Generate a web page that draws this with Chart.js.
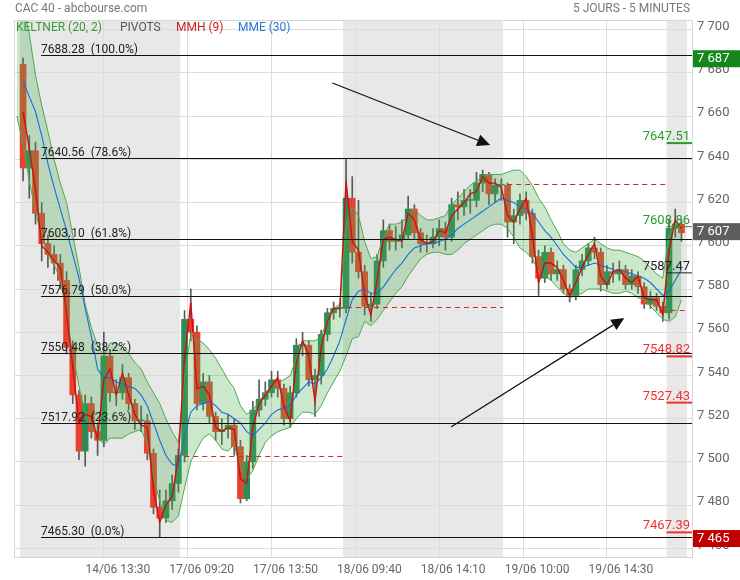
<!DOCTYPE html>
<html>
<head>
<meta charset="utf-8">
<title>CAC 40 - 5 jours</title>
<script src="https://cdn.jsdelivr.net/npm/chart.js@4.4.1/dist/chart.umd.min.js"></script>
<style>
  html, body { margin: 0; padding: 0; background: #fff; }
  #wrap { width: 740px; height: 580px; }
</style>
</head>
<body>
<div id="wrap"><canvas id="chart" width="740" height="580"></canvas></div>
<script>
// one candle = 20 min (4 bars of 5 min), slot 0 = 14/06 09:00
const firstOpen = 7684;
const closes = [
  7636, 7644, 7615, 7601, 7596, 7592, 7584, 7553, 7531, 7505,
  7527, 7514, 7510, 7549, 7532, 7532, 7539, 7527, 7519, 7519,
  7504, 7479, 7474, 7482, 7490, 7503, 7566, 7560, 7527, 7537,
  7521, 7514, 7515, 7517, 7507, 7483, 7500, 7524, 7529, 7532,
  7538, 7534, 7520, 7532, 7554, 7554, 7538, 7540, 7559, 7569,
  7571, 7571, 7622, 7597, 7588, 7572, 7573, 7593, 7607, 7602,
  7603, 7605, 7617, 7606, 7601, 7601, 7604, 7608, 7604, 7619,
  7618, 7621, 7621, 7629, 7633, 7624, 7628, 7628, 7611, 7614,
  7621, 7615, 7595, 7585, 7597, 7587, 7589, 7580, 7577, 7589,
  7593, 7599, 7597, 7582, 7588, 7587, 7589, 7582, 7586, 7581,
  7573, 7576, 7572, 7569, 7608, 7610, 7606
];
const highs = [
  7687, 7651, 7648, 7620, 7605, 7600, 7596, 7588, 7556, 7533,
  7531, 7530, 7518, 7560, 7552, 7538, 7545, 7541, 7529, 7526,
  7522, 7506, 7487, 7487, 7494, 7506, 7570, 7580, 7563, 7541,
  7540, 7523, 7520, 7522, 7520, 7510, 7503, 7528, 7538, 7537,
  7542, 7542, 7536, 7535, 7557, 7560, 7556, 7543, 7561, 7571,
  7574, 7574, 7640, 7632, 7621, 7591, 7578, 7596, 7612, 7610,
  7609, 7612, 7623, 7619, 7608, 7605, 7608, 7612, 7611, 7622,
  7625, 7626, 7626, 7634, 7635, 7634, 7631, 7631, 7629, 7617,
  7624, 7625, 7617, 7598, 7600, 7599, 7593, 7591, 7582, 7591,
  7596, 7601, 7604, 7599, 7591, 7592, 7593, 7591, 7589, 7588,
  7583, 7579, 7578, 7574, 7612, 7617, 7612
];
const lows = [
  7630, 7622, 7610, 7593, 7590, 7587, 7580, 7550, 7527, 7501,
  7498, 7511, 7503, 7507, 7528, 7526, 7529, 7524, 7515, 7514,
  7501, 7476, 7465, 7472, 7478, 7486, 7500, 7556, 7524, 7524,
  7518, 7510, 7508, 7511, 7503, 7481, 7482, 7497, 7521, 7526,
  7530, 7530, 7517, 7516, 7530, 7549, 7535, 7521, 7536, 7556,
  7566, 7567, 7569, 7592, 7585, 7568, 7565, 7571, 7590, 7598,
  7598, 7599, 7603, 7603, 7597, 7597, 7599, 7600, 7598, 7602,
  7612, 7614, 7615, 7618, 7625, 7619, 7620, 7621, 7604, 7601,
  7610, 7612, 7592, 7577, 7583, 7584, 7584, 7578, 7574, 7575,
  7586, 7591, 7594, 7579, 7580, 7583, 7584, 7580, 7580, 7578,
  7571, 7571, 7570, 7565, 7566, 7604, 7602
];
// MMH (9), red line
const mmh = [
  7662, 7645, 7626, 7600, 7597, 7593, 7590, 7569, 7544, 7518,
  7522, 7521, 7511, 7538, 7543, 7531, 7541, 7531, 7522, 7517,
  7516, 7487, 7472, 7480, 7484, 7502, 7548, 7574, 7534, 7535,
  7531, 7516, 7514, 7516, 7515, 7492, 7490, 7516, 7527, 7531,
  7535, 7539, 7526, 7519, 7546, 7556, 7549, 7528, 7553, 7565,
  7571, 7571, 7630, 7602, 7598, 7577, 7568, 7584, 7603, 7604,
  7603, 7602, 7615, 7612, 7603, 7601, 7602, 7607, 7606, 7614,
  7617, 7620, 7624, 7625, 7632, 7629, 7629, 7627, 7614, 7611,
  7617, 7622, 7605, 7583, 7592, 7592, 7590, 7584, 7577, 7583,
  7590, 7596, 7601, 7586, 7582, 7588, 7589, 7585, 7583, 7586,
  7576, 7575, 7575, 7568, 7598, 7612, 7608
];
// MME (30), blue line
const mme = [
  7676, 7669, 7662, 7651, 7638, 7627, 7617, 7607, 7596, 7585,
  7571, 7558, 7543, 7539, 7539, 7537, 7536, 7535, 7534, 7531,
  7526, 7518, 7510, 7503, 7499, 7498, 7512, 7523, 7526, 7527,
  7528, 7526, 7523, 7522, 7520, 7518, 7514, 7512, 7515, 7518,
  7522, 7524, 7525, 7526, 7531, 7534, 7537, 7536, 7539, 7543,
  7549, 7556, 7566, 7575, 7579, 7580, 7578, 7578, 7581, 7585,
  7589, 7592, 7596, 7599, 7600, 7601, 7601, 7602, 7603, 7605,
  7608, 7610, 7612, 7614, 7616, 7618, 7620, 7622, 7621, 7620,
  7618, 7617, 7615, 7611, 7607, 7604, 7600, 7596, 7593, 7590,
  7590, 7591, 7592, 7591, 7590, 7589, 7588, 7588, 7587, 7586,
  7585, 7583, 7580, 7577, 7579, 7584, 7589
];
// Keltner (20, 2), these two start one slot earlier (slot -1)
const keltnerUpper = [
  7720,
  7712, 7698, 7679, 7665, 7653, 7640, 7629, 7620, 7605, 7590,
  7573, 7562, 7554, 7549, 7555, 7555, 7553, 7550, 7546, 7543,
  7537, 7532, 7527, 7520, 7514, 7509, 7540, 7559, 7557, 7555,
  7552, 7548, 7543, 7538, 7534, 7526, 7522, 7524, 7528, 7532,
  7535, 7537, 7538, 7540, 7548, 7556, 7556, 7556, 7558, 7566,
  7571, 7573, 7610, 7618, 7614, 7602, 7594, 7595, 7604, 7610,
  7610, 7611, 7614, 7617, 7614, 7612, 7612, 7613, 7614, 7619,
  7622, 7625, 7628, 7630, 7632, 7633, 7633, 7633, 7634, 7635,
  7635, 7632, 7628, 7622, 7618, 7612, 7607, 7601, 7598, 7597,
  7599, 7601, 7603, 7601, 7599, 7598, 7598, 7597, 7596, 7595,
  7593, 7590, 7587, 7585, 7605, 7610, 7610
];
const keltnerLower = [
  7660,
  7647, 7630, 7616, 7604, 7596, 7591, 7585, 7568, 7550, 7535,
  7521, 7515, 7512, 7508, 7511, 7511, 7511, 7513, 7514, 7515,
  7508, 7493, 7482, 7473, 7472, 7475, 7488, 7500, 7506, 7511,
  7513, 7510, 7506, 7505, 7508, 7497, 7492, 7496, 7503, 7509,
  7512, 7514, 7515, 7516, 7520, 7523, 7523, 7522, 7526, 7532,
  7537, 7542, 7549, 7557, 7558, 7565, 7563, 7566, 7570, 7574,
  7578, 7581, 7586, 7590, 7594, 7596, 7597, 7597, 7596, 7596,
  7598, 7601, 7603, 7605, 7607, 7609, 7610, 7610, 7608, 7604,
  7599, 7597, 7594, 7588, 7586, 7584, 7581, 7578, 7576, 7577,
  7578, 7580, 7580, 7580, 7579, 7578, 7578, 7579, 7578, 7576,
  7575, 7572, 7569, 7566, 7565, 7567, 7575
];

const tickSlots = [13, 26.5, 40, 53.5, 67, 80.5, 94];
const tickLabels = ['14/06 13:30', '17/06 09:20', '17/06 13:50', '18/06 09:40', '18/06 14:10', '19/06 10:00', '19/06 14:30'];

// day edges in slots: 14/06, 17/06, 18/06, 19/06, 20/06
const dayEdges = [-0.5, 25.3, 51.5, 77.3, 103.6, 106.9];
const prevCloses = [7502.8, 7571.7, 7628.6, 7570.3];   // dashed, days 17/06..20/06

const fibValues = [7688.28, 7640.56, 7603.10, 7576.79, 7550.48, 7517.92, 7465.30];
const fibPcts = [100.0, 78.6, 61.8, 50.0, 38.2, 23.6, 0.0];

const pivotValues = [7647.51, 7608.86, 7587.47, 7548.82, 7527.43, 7467.39];
const pivotKinds = ['r', 'r', 'p', 's', 's', 's'];

const periodHigh = 7687, lastPrice = 7607, periodLow = 7465;

// arrows: [x1, y1, x2, y2] in slot / price units
const arrows = [[49.8, 7675.3, 75.2, 7646.6], [68.9, 7516.2, 96.8, 7566.6]];

const UP = '#2e8b57', DOWN = '#e8412f';
const FONT = 'Roboto, "Open Sans", sans-serif';

const opens = [firstOpen].concat(closes.slice(0, -1));

function fmtThousands(v) {
    const t = Math.round(v);
    return Math.floor(t / 1000) + ' ' + String(t % 1000).padStart(3, '0');
}

// gray days under the grid
const dayShade = {
    id: 'dayShade',
    beforeDraw(chart) {
        const { ctx, chartArea: a, scales: { x } } = chart;
        ctx.save();
        ctx.fillStyle = '#e8e8e8';
        for (let d = 0; d < dayEdges.length - 1; d += 2) {
            const x1 = x.getPixelForValue(dayEdges[d]);
            const x2 = x.getPixelForValue(dayEdges[d + 1]);
            ctx.fillRect(x1, a.top, x2 - x1, a.bottom - a.top);
        }
        ctx.restore();
    }
};

const overlays = {
    id: 'overlays',
    afterDatasetsDraw(chart) {
        const { ctx, chartArea: a, scales: { x, y } } = chart;
        ctx.save();

        // fibonacci retracements
        const fx = x.getPixelForValue(2.9);
        ctx.font = '12px ' + FONT;
        ctx.textAlign = 'left';
        ctx.textBaseline = 'alphabetic';
        fibValues.forEach((v, i) => {
            const py = Math.round(y.getPixelForValue(v)) + 0.5;
            ctx.strokeStyle = '#111';
            ctx.lineWidth = 1.2;
            ctx.beginPath();
            ctx.moveTo(fx, py);
            ctx.lineTo(a.right, py);
            ctx.stroke();
            ctx.fillStyle = '#222';
            ctx.fillText(v.toFixed(2) + '  (' + fibPcts[i].toFixed(1) + '%)', fx, py - 3);
        });

        // previous close, dashed
        ctx.strokeStyle = '#e02020';
        ctx.lineWidth = 1;
        ctx.setLineDash([5, 4]);
        prevCloses.forEach((v, i) => {
            const py = Math.round(y.getPixelForValue(v)) + 0.5;
            ctx.beginPath();
            ctx.moveTo(x.getPixelForValue(dayEdges[i + 1]) + 4, py);
            ctx.lineTo(x.getPixelForValue(dayEdges[i + 2]), py);
            ctx.stroke();
        });
        ctx.setLineDash([]);

        // pivots of the last day
        const px1 = x.getPixelForValue(dayEdges[4]);
        ctx.font = '13px ' + FONT;
        ctx.textAlign = 'right';
        pivotValues.forEach((v, i) => {
            const col = pivotKinds[i] === 'r' ? '#2a9a2a' : (pivotKinds[i] === 's' ? '#f03030' : '#222');
            const py = y.getPixelForValue(v);
            ctx.strokeStyle = col;
            ctx.lineWidth = pivotKinds[i] === 'p' || i === 1 ? 1 : 2;
            ctx.beginPath();
            ctx.moveTo(px1, py);
            ctx.lineTo(a.right, py);
            ctx.stroke();
            ctx.fillStyle = col;
            ctx.fillText(v.toFixed(2), a.right - 2, py - 3);
        });

        // arrows
        ctx.strokeStyle = '#111';
        ctx.fillStyle = '#111';
        ctx.lineWidth = 1.2;
        arrows.forEach(([x1, y1, x2, y2]) => {
            const ax = x.getPixelForValue(x1), ay = y.getPixelForValue(y1);
            const bx = x.getPixelForValue(x2), by = y.getPixelForValue(y2);
            const ang = Math.atan2(by - ay, bx - ax);
            const L = 13, W = 6;
            const hx = bx - L * Math.cos(ang), hy = by - L * Math.sin(ang);
            ctx.beginPath();
            ctx.moveTo(ax, ay);
            ctx.lineTo(hx, hy);
            ctx.stroke();
            ctx.beginPath();
            ctx.moveTo(bx, by);
            ctx.lineTo(hx + W * Math.sin(ang), hy - W * Math.cos(ang));
            ctx.lineTo(hx - W * Math.sin(ang), hy + W * Math.cos(ang));
            ctx.closePath();
            ctx.fill();
        });
        ctx.restore();
    },
    afterDraw(chart) {
        const { ctx, chartArea: a, scales: { y } } = chart;
        ctx.save();
        // frame
        ctx.strokeStyle = '#d6d6d6';
        ctx.lineWidth = 1;
        ctx.strokeRect(a.left - 0.5, a.top - 0.5, a.right - a.left + 1, a.bottom - a.top + 1);

        // title
        ctx.font = '12px ' + FONT;
        ctx.textBaseline = 'middle';
        ctx.fillStyle = '#777';
        ctx.textAlign = 'left';
        ctx.fillText('CAC 40 - abcbourse.com', 15, 9);
        ctx.textAlign = 'right';
        ctx.fillText('5 JOURS - 5 MINUTES', 690, 9);

        // legend
        ctx.textAlign = 'left';
        const legend = [['KELTNER (20, 2)', '#3a9a3a', 16], ['PIVOTS', '#555', 120], ['MMH (9)', '#cc2222', 176], ['MME (30)', '#2a78d6', 238]];
        legend.forEach(([t, c, lx]) => { ctx.fillStyle = c; ctx.fillText(t, lx, 28); });

        // price tags on the axis
        ctx.font = '13px ' + FONT;
        [[periodHigh, '#15861a'], [lastPrice, '#5e5e5e'], [periodLow, '#c00000']].forEach(([v, c]) => {
            const py = y.getPixelForValue(v) + 1;
            ctx.fillStyle = c;
            ctx.fillRect(a.right + 1, py - 8.5, 740 - a.right, 17);
            ctx.fillStyle = '#fff';
            ctx.fillText(fmtThousands(v), a.right + 5, py + 0.5);
        });
        ctx.restore();
    }
};

const config = {
    type: 'bar',
    data: {
        datasets: [
            {
                type: 'line',
                label: 'MMH (9)',
                data: mmh.map((v, i) => ({ x: i, y: v })),
                borderColor: '#cc1111',
                borderWidth: 1.4,
                pointRadius: 0,
                tension: 0,
                order: 1
            },
            {
                type: 'line',
                label: 'MME (30)',
                data: mme.map((v, i) => ({ x: i, y: v })),
                borderColor: '#1a6fdc',
                borderWidth: 1.1,
                pointRadius: 0,
                tension: 0,
                order: 2
            },
            {
                type: 'line',
                label: 'Keltner haut',
                data: keltnerUpper.map((v, i) => ({ x: i - 1, y: v })),
                borderColor: '#4fa84f',
                borderWidth: 1,
                pointRadius: 0,
                tension: 0,
                fill: '+1',
                backgroundColor: 'rgba(76,175,80,0.29)',
                order: 3
            },
            {
                type: 'line',
                label: 'Keltner bas',
                data: keltnerLower.map((v, i) => ({ x: i - 1, y: v })),
                borderColor: '#4fa84f',
                borderWidth: 1,
                pointRadius: 0,
                tension: 0,
                fill: false,
                order: 4
            },
            {
                type: 'bar',
                label: 'corps',
                data: closes.map((c, i) => ({ x: i, y: [opens[i], c] })),
                backgroundColor: closes.map((c, i) => c >= opens[i] ? UP : DOWN),
                barThickness: 6,
                minBarLength: 1,
                grouped: false,
                order: 5
            },
            {
                type: 'bar',
                label: 'meches',
                data: highs.map((h, i) => ({ x: i, y: [lows[i], h] })),
                backgroundColor: '#595959',
                barThickness: 1,
                grouped: false,
                order: 6
            }
        ]
    },
    options: {
        responsive: false,
        animation: false,
        layout: { padding: { left: 15, top: 21, right: 0, bottom: 0 } },
        plugins: {
            legend: { display: false },
            tooltip: { enabled: false }
        },
        scales: {
            x: {
                type: 'linear',
                min: -1.3,
                max: 107.7,
                offset: false,
                grid: { color: '#dcdcdc', drawTicks: false, offset: false },
                border: { display: false },
                afterBuildTicks: (scale) => { scale.ticks = tickSlots.map(v => ({ value: v })); },
                afterFit: (scale) => { scale.height = 23; },
                ticks: {
                    autoSkip: false,
                    maxRotation: 0,
                    padding: 6,
                    labelOffset: 14,
                    color: '#666',
                    font: { family: FONT, size: 12 },
                    callback: (v) => { const k = tickSlots.indexOf(v); return k >= 0 ? tickLabels[k] : ''; }
                }
            },
            y: {
                position: 'right',
                min: 7456,
                max: 7704,
                grid: { color: '#dcdcdc', drawTicks: false },
                border: { display: false },
                afterFit: (scale) => { scale.width = 48; },
                ticks: {
                    stepSize: 20,
                    includeBounds: false,
                    padding: 5,
                    labelOffset: -3,
                    color: '#666',
                    font: { family: FONT, size: 13 },
                    callback: (v) => fmtThousands(v)
                }
            }
        }
    },
    plugins: [dayShade, overlays]
};

new Chart(document.getElementById('chart'), config);
</script>
</body>
</html>
